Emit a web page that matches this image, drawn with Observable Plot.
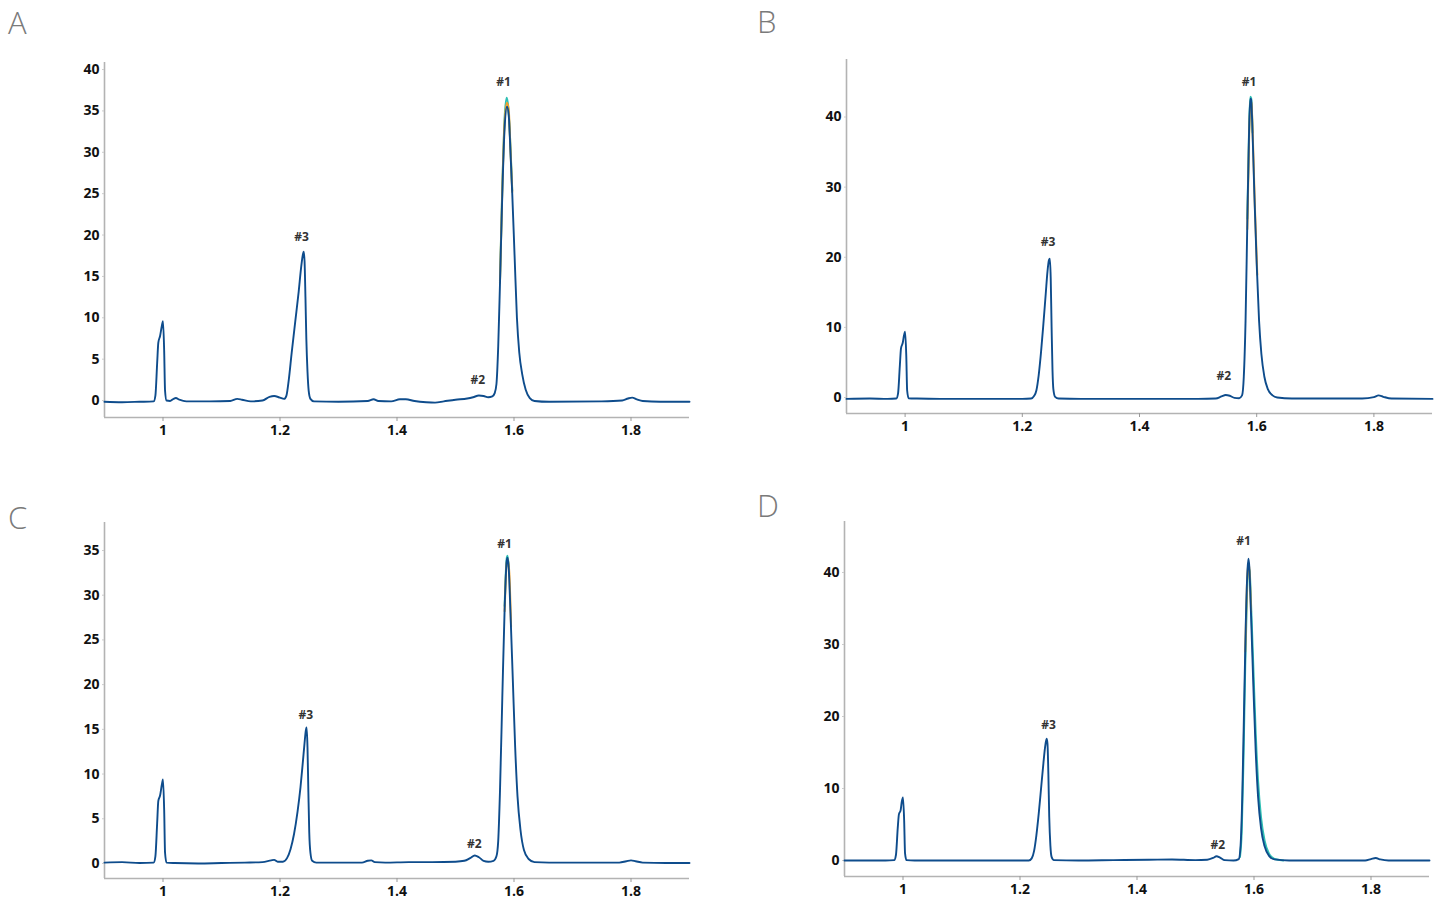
<!DOCTYPE html>
<html>
<head>
<meta charset="utf-8">
<script src="https://cdn.jsdelivr.net/npm/d3@7"></script>
<script src="https://cdn.jsdelivr.net/npm/@observablehq/plot@0.6"></script>
<style>
  html, body { margin: 0; padding: 0; background: #fff; }
  #page { position: relative; width: 1452px; height: 905px; overflow: hidden; background: #fff; }
  .panel { position: absolute; }
  .letter { position: absolute; font-family: "Open Sans", "Lato", sans-serif; font-weight: 300; font-size: 31px; line-height: 40px; height: 40px; color: #7a7a7a; }
</style>
</head>
<body>
<div id="page"></div>
<script>
// ---------- shared axis values ----------
const xTicks = [1, 1.2, 1.4, 1.6, 1.8];
const xTickLabels = ["1", "1.2", "1.4", "1.6", "1.8"];
const xDomain = [0.9, 1.9];

// ---------- Panel A ----------
const yTicksA = [0, 5, 10, 15, 20, 25, 30, 35, 40];
const traceA_blue = [
[0.900,-0.15],[0.930,-0.2],[0.960,-0.15],[0.984,-0.1],[0.987,0.6],[0.990,4.5],[0.992,7.0],[0.995,7.8],[0.998,9.0],[1.000,9.6],[1.002,6],[1.0035,1.2],[1.006,0.0],[1.012,-0.05],[1.018,0.2],[1.022,0.3],[1.028,0.1],[1.040,-0.1],[1.080,-0.1],[1.115,-0.05],[1.127,0.2],[1.135,0.1],[1.150,-0.1],[1.170,0.0],[1.182,0.45],[1.190,0.55],[1.200,0.35],[1.207,0.2],[1.211,0.6],[1.215,2.5],[1.220,5.8],[1.226,9.5],[1.232,13.2],[1.236,16.0],[1.239,17.6],[1.2405,18.0],[1.242,16.8],[1.2435,12.5],[1.245,7.5],[1.247,3.5],[1.249,1.2],[1.252,0.2],[1.258,-0.1],[1.300,-0.15],[1.350,-0.05],[1.360,0.15],[1.368,-0.05],[1.390,-0.1],[1.405,0.15],[1.415,0.15],[1.430,-0.05],[1.450,-0.2],[1.465,-0.25],[1.480,-0.1],[1.500,0.1],[1.520,0.25],[1.530,0.4],[1.540,0.6],[1.548,0.55],[1.556,0.4],[1.563,0.5],[1.567,0.9],[1.570,2.0],[1.573,6.5],[1.576,14],[1.580,25],[1.584,33],[1.588,35.5],[1.591,34.5],[1.594,30],[1.597,25],[1.601,17.5],[1.605,10],[1.609,5.8],[1.614,3.2],[1.620,1.3],[1.627,0.3],[1.635,-0.05],[1.660,-0.15],[1.750,-0.1],[1.785,0.0],[1.795,0.25],[1.802,0.35],[1.810,0.15],[1.820,-0.05],[1.850,-0.15],[1.900,-0.15]
];
const traceA_teal = [[1.576,14.4],[1.580,25.8],[1.584,34.2],[1.5875,36.6],[1.590,35.6],[1.594,30.6],[1.597,25.4]];
const traceA_orange = [[1.576,14.2],[1.580,25.5],[1.584,33.7],[1.588,36.0],[1.591,35.1],[1.594,30.3],[1.597,25.2]];
const labelsA = [["#1",1.582,38.5],["#3",1.237,19.8],["#2",1.538,2.5]];

// ---------- Panel B ----------
const yTicksB = [0, 10, 20, 30, 40];
const traceB_blue = [
[0.900,-0.2],[0.940,-0.15],[0.970,-0.2],[0.985,-0.15],[0.988,0.6],[0.991,4.5],[0.993,7.0],[0.996,7.8],[0.998,8.8],[1.000,9.4],[1.002,6],[1.0035,1.0],[1.006,-0.1],[1.020,-0.15],[1.060,-0.2],[1.100,-0.2],[1.150,-0.2],[1.200,-0.2],[1.215,-0.15],[1.220,0.2],[1.224,1.0],[1.228,3.2],[1.232,6.5],[1.236,10.5],[1.240,14.8],[1.243,18.0],[1.2455,19.6],[1.247,19.8],[1.2485,17],[1.250,10],[1.2515,4],[1.253,1.2],[1.256,0.1],[1.262,-0.15],[1.300,-0.2],[1.400,-0.2],[1.450,-0.2],[1.500,-0.2],[1.530,-0.15],[1.540,0.15],[1.547,0.35],[1.554,0.25],[1.562,-0.05],[1.570,-0.1],[1.575,0.3],[1.578,3],[1.581,11],[1.584,25],[1.587,38],[1.589,42.6],[1.5905,42.5],[1.593,37.5],[1.596,29],[1.600,19],[1.604,11],[1.608,6.2],[1.613,3],[1.619,1.2],[1.627,0.3],[1.635,0.0],[1.660,-0.15],[1.780,-0.15],[1.800,0.05],[1.808,0.3],[1.816,0.1],[1.830,-0.15],[1.900,-0.2]
];
const traceB_teal = [[1.584,25.5],[1.587,38.3],[1.589,42.9],[1.5905,42.7],[1.593,37.8]];
const traceB_orange = [[1.584,24],[1.587,37],[1.5895,42.3],[1.591,42],[1.594,35.5],[1.597,27],[1.601,17.5]];
const labelsB = [["#1",1.587,44.9],["#3",1.244,22.2],["#2",1.544,3.0]];

// ---------- Panel C ----------
const yTicksC = [0, 5, 10, 15, 20, 25, 30, 35];
const traceC_blue = [
[0.900,0.1],[0.930,0.15],[0.960,0.05],[0.984,0.1],[0.987,0.8],[0.990,4.5],[0.992,7.0],[0.995,7.6],[0.998,8.8],[1.000,9.4],[1.002,6],[1.0035,1.2],[1.006,0.1],[1.020,0.05],[1.060,0.0],[1.100,0.05],[1.140,0.1],[1.170,0.15],[1.185,0.35],[1.190,0.4],[1.196,0.2],[1.205,0.2],[1.212,0.6],[1.218,1.6],[1.224,3.3],[1.230,5.8],[1.235,8.5],[1.239,11.3],[1.242,13.5],[1.244,14.8],[1.2455,15.2],[1.247,13],[1.2485,8],[1.250,3.5],[1.252,1.2],[1.255,0.3],[1.262,0.1],[1.300,0.1],[1.340,0.1],[1.350,0.3],[1.356,0.35],[1.362,0.15],[1.380,0.1],[1.420,0.15],[1.460,0.15],[1.500,0.2],[1.515,0.3],[1.525,0.6],[1.533,0.9],[1.540,0.7],[1.548,0.3],[1.556,0.2],[1.565,0.3],[1.570,0.8],[1.573,2.5],[1.576,8],[1.580,18.5],[1.584,28.5],[1.5875,33.8],[1.589,34.2],[1.591,33.0],[1.594,28],[1.598,20.5],[1.602,13],[1.606,7.5],[1.611,3.8],[1.617,1.5],[1.625,0.5],[1.635,0.15],[1.660,0.1],[1.780,0.1],[1.792,0.25],[1.800,0.35],[1.808,0.25],[1.820,0.1],[1.860,0.05],[1.900,0.05]
];
const traceC_teal = [[1.584,28.8],[1.5875,34.1],[1.589,34.4],[1.591,33.2]];
const traceC_orange = [[1.584,28.2],[1.5875,33.6],[1.5895,34.0],[1.592,32.5],[1.595,26.5]];
const labelsC = [["#1",1.584,35.7],["#3",1.244,16.6],["#2",1.532,2.2]];

// ---------- Panel D ----------
const yTicksD = [0, 10, 20, 30, 40];
const traceD_blue = [
[0.900,0.0],[0.940,0.0],[0.970,0.0],[0.985,0.05],[0.988,0.8],[0.991,4.5],[0.993,6.4],[0.996,7.0],[0.998,8.2],[1.000,8.75],[1.002,5.5],[1.0035,1.0],[1.006,0.05],[1.020,0.0],[1.100,0.0],[1.180,0.0],[1.215,0.0],[1.220,0.3],[1.224,1.3],[1.228,3.5],[1.232,6.5],[1.236,10],[1.240,13.5],[1.243,15.8],[1.2455,16.9],[1.247,16.2],[1.2485,12],[1.250,6],[1.252,2],[1.254,0.5],[1.258,0.05],[1.300,0.0],[1.360,0.05],[1.420,0.1],[1.460,0.15],[1.500,0.05],[1.520,0.1],[1.530,0.35],[1.536,0.6],[1.542,0.4],[1.550,0.05],[1.565,0.0],[1.574,0.2],[1.577,2],[1.580,9],[1.583,21],[1.586,33],[1.589,40.5],[1.5905,41.9],[1.592,40.8],[1.595,34],[1.599,24],[1.603,15],[1.607,8.8],[1.612,4.5],[1.618,2],[1.626,0.6],[1.635,0.15],[1.660,0.0],[1.790,0.0],[1.800,0.2],[1.808,0.35],[1.816,0.15],[1.830,0.0],[1.900,0.0]
];
const traceD_teal = [[1.576,0.5],[1.579,4],[1.582,14],[1.585,27],[1.588,37],[1.5905,40.6],[1.5925,40.2],[1.595,35.5],[1.599,26.5],[1.603,17.5],[1.607,11],[1.612,6],[1.618,2.8],[1.626,0.9],[1.635,0.2],[1.650,0.0]];
const traceD_orange = [[1.585,29],[1.588,38.5],[1.5905,41.3],[1.592,40.5],[1.595,34.5]];
const labelsD = [["#1",1.582,44.4],["#3",1.249,18.75],["#2",1.538,2.2]];

// ---------- colours ----------
const colBlue = "#0e4c8c";
const colTeal = "#2fbfb3";
const colOrange = "#f0a02a";
const axisGray = "#b3b3b3";

function panel(cfg) {
  const yDom = cfg.yDomain;
  const lineOpts = (stroke, w) => ({x: d => d[0], y: d => d[1], stroke, strokeWidth: w, curve: "monotone-x"});
  return Plot.plot({
    width: cfg.width,
    height: cfg.height,
    marginLeft: 104,
    marginRight: 10,
    marginTop: cfg.marginTop,
    marginBottom: cfg.marginBottom,
    x: {domain: xDomain},
    y: {domain: yDom},
    style: {fontFamily: "'Open Sans', sans-serif", fontSize: "14px", fontWeight: "bold", color: "#111", background: "transparent", overflow: "visible"},
    marks: [
      Plot.ruleX([xDomain[0]], {stroke: axisGray, strokeWidth: 1.6}),
      Plot.ruleY([yDom[0]], {stroke: axisGray, strokeWidth: 1.6}),
      Plot.axisX({ticks: xTicks, tickFormat: d => xTickLabels[xTicks.indexOf(d)], tickSize: 4, tickPadding: 4, stroke: "#999", fill: "#111", fontWeight: "bold", label: null}),
      Plot.axisY({ticks: cfg.yTicks, tickSize: 2, tickPadding: 3, stroke: "#ccc", fill: "#111", fontWeight: "bold", label: null}),
      Plot.line(cfg.teal, lineOpts(colTeal, 2)),
      Plot.line(cfg.orange, lineOpts(colOrange, 2)),
      Plot.line(cfg.blue, lineOpts(colBlue, 1.9)),
      Plot.text(cfg.labels, {x: d => d[1], y: d => d[2], text: d => d[0], fontSize: 12, fontWeight: "bold", fill: "#333"})
    ]
  });
}

const page = document.getElementById("page");
function place(el, left, top) {
  el.classList.add("panel");
  el.style.left = left + "px";
  el.style.top = top + "px";
  page.appendChild(el);
}
function letter(t, left, top) {
  const d = document.createElement("div");
  d.className = "letter";
  d.textContent = t;
  d.style.left = left + "px";
  d.style.top = top + "px";
  page.appendChild(d);
}

place(panel({width: 699, height: 447, marginTop: 62, marginBottom: 30, yDomain: [-2.05, 40.85], yTicks: yTicksA,
  blue: traceA_blue, teal: traceA_teal, orange: traceA_orange, labels: labelsA}), 0, 0);
place(panel({width: 700, height: 443, marginTop: 59, marginBottom: 30, yDomain: [-2.28, 48.2], yTicks: yTicksB,
  blue: traceB_blue, teal: traceB_teal, orange: traceB_orange, labels: labelsB}), 742, 0);
place(panel({width: 699, height: 448, marginTop: 62, marginBottom: 30, yDomain: [-1.68, 38.13], yTicks: yTicksC,
  blue: traceC_blue, teal: traceC_teal, orange: traceC_orange, labels: labelsC}), 0, 460);
place(panel({width: 699, height: 446, marginTop: 61, marginBottom: 30, yDomain: [-2.22, 47.08], yTicks: yTicksD,
  blue: traceD_blue, teal: traceD_teal, orange: traceD_orange, labels: labelsD}), 740, 460);

letter("A", 8, 2);
letter("B", 757, 1);
letter("C", 8, 497);
letter("D", 757, 485);
</script>
</body>
</html>
